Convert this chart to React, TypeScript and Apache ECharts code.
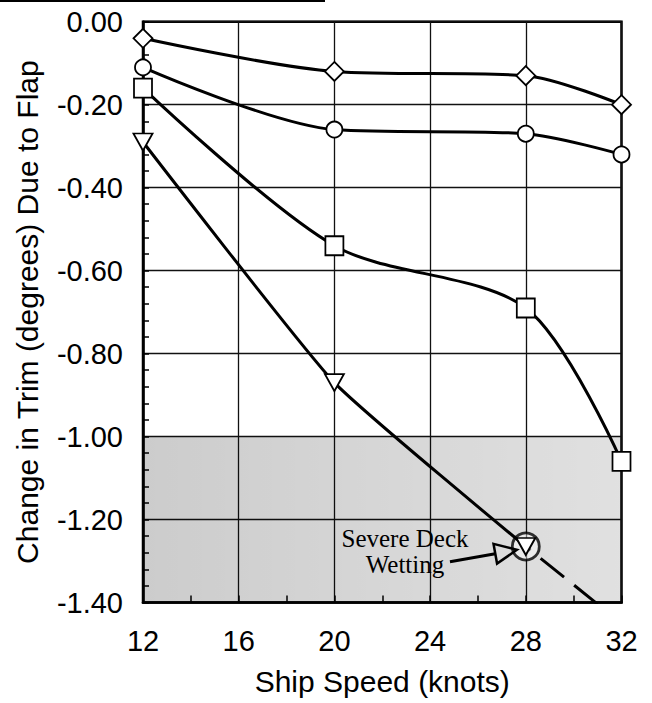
import React, { useEffect, useRef } from "react";
import * as echarts from "echarts";

// Ship speed (knots) at which trim change was measured
const speeds = [12, 20, 28, 32];
// Change in trim (degrees) due to flap, one array per flap configuration
const diamondTrim = [-0.04, -0.12, -0.13, -0.2];
const circleTrim = [-0.11, -0.26, -0.27, -0.32];
const squareTrim = [-0.16, -0.54, -0.69, -1.06];
const triangleSpeeds = [12, 20, 28];
const triangleTrim = [-0.29, -0.87, -1.265];
// extrapolated continuation of the triangle configuration
const extensionSpeeds = [28, 32];
const extensionTrim = [-1.265, -1.45];

// severe deck wetting zone (speed range, trim range)
const zoneSpeeds = [12, 32];
const zoneTrim = [-1.0, -1.4];
const wettingPoint = [28, -1.265];

// annotation anchors in data coordinates
const noteAnchor = [22.95, -1.276];
const arrowTail = [24.83, -1.302];
const arrowTip = [27.63, -1.273];

const SANS = "'Liberation Sans', Arial, Helvetica, sans-serif";
const SERIF = "'Liberation Serif', 'Times New Roman', serif";

const zip = (xs: number[], ys: number[]) => xs.map((x, i) => [x, ys[i]]);

const lineSeries = (
  data: number[][],
  symbol: string,
  symbolSize: number | number[],
  extra: Record<string, unknown> = {}
) => ({
  type: "line",
  data,
  smooth: 0.3,
  symbol,
  symbolSize,
  silent: true,
  z: 3,
  lineStyle: { color: "#000", width: 3 },
  itemStyle: { color: "#fff", borderColor: "#000", borderWidth: 1.8 },
  ...extra,
});

export default function App() {
  const ref = useRef<HTMLDivElement>(null);

  useEffect(() => {
    if (!ref.current) return;
    const chart = echarts.init(ref.current, null, { renderer: "svg" });

    const option: any = {
      animation: false,
      backgroundColor: "#fff",
      grid: {
        left: 143,
        right: 30.5,
        top: 21.7,
        bottom: 100.5,
        show: true,
        borderColor: "#000",
        borderWidth: 2.5,
        outerBoundsMode: "none",
      },
      xAxis: {
        type: "value",
        min: 12,
        max: 32,
        interval: 4,
        name: "Ship Speed (knots)",
        nameLocation: "middle",
        nameGap: 64,
        nameTextStyle: { fontSize: 30, color: "#000", fontFamily: SANS },
        axisLine: { onZero: false, lineStyle: { color: "#000", width: 2.5 } },
        axisTick: { show: true, inside: true, length: 7, lineStyle: { color: "#000", width: 1.5 } },
        minorTick: { show: true, splitNumber: 2, length: 7, lineStyle: { color: "#000", width: 1.5 } },
        axisLabel: { fontSize: 29, color: "#000", margin: 24, fontFamily: SANS },
        splitLine: { show: true, lineStyle: { color: "#111", width: 1.3 } },
      },
      yAxis: {
        type: "value",
        min: -1.4,
        max: 0,
        interval: 0.2,
        name: "Change in Trim (degrees) Due to Flap",
        nameLocation: "middle",
        nameGap: 101,
        nameTextStyle: { fontSize: 30, color: "#000", fontFamily: SANS },
        axisLine: { onZero: false, lineStyle: { color: "#000", width: 2.5 } },
        axisTick: { show: true, inside: true, length: 6, lineStyle: { color: "#000", width: 1.5 } },
        minorTick: { show: true, splitNumber: 5, length: 6, lineStyle: { color: "#000", width: 1.5 } },
        axisLabel: {
          fontSize: 29,
          color: "#000",
          margin: 20,
          fontFamily: SANS,
          formatter: (v: number) => v.toFixed(2),
        },
        splitLine: { show: true, lineStyle: { color: "#111", width: 1.3 } },
      },
      series: [
        {
          type: "line",
          data: zip(extensionSpeeds, extensionTrim),
          symbol: "none",
          silent: true,
          z: 1,
          lineStyle: { color: "#000", width: 3, type: [30, 13], dashOffset: 24 },
          markArea: {
            silent: true,
            itemStyle: {
              color: {
                type: "linear",
                x: 0,
                y: 0,
                x2: 1,
                y2: 0,
                colorStops: [
                  { offset: 0, color: "rgba(0,0,0,0.2)" },
                  { offset: 1, color: "rgba(0,0,0,0.12)" },
                ],
              },
            },
            data: [
              [
                { coord: [zoneSpeeds[0], zoneTrim[0]] },
                { coord: [zoneSpeeds[1], zoneTrim[1]] },
              ],
            ],
          },
        },
        {
          type: "scatter",
          data: [wettingPoint],
          symbol: "circle",
          symbolSize: 27,
          silent: true,
          z: 2,
          itemStyle: { color: "rgba(255,255,255,0.55)", borderColor: "#000", borderWidth: 2.8 },
        },
        lineSeries(zip(speeds, diamondTrim), "diamond", [19, 19]),
        lineSeries(zip(speeds, circleTrim), "circle", 16),
        lineSeries(zip(speeds, squareTrim), "rect", [18, 19]),
        lineSeries(zip(triangleSpeeds, triangleTrim), "triangle", [19, 17], {
          symbolRotate: 180,
          smooth: 0.15,
        }),
      ],
    };

    chart.setOption(option);

    // annotation: text with an open-headed arrow pointing to the wetting point
    const toPx = (p: number[]) => chart.convertToPixel({ gridIndex: 0 }, p) as number[];
    const tail = toPx(arrowTail);
    const tip = toPx(arrowTip);
    const note = toPx(noteAnchor);
    const dx = tip[0] - tail[0];
    const dy = tip[1] - tail[1];
    const len = Math.hypot(dx, dy) || 1;
    const ux = dx / len;
    const uy = dy / len;
    const nx = -uy;
    const ny = ux;
    const headLen = 22;
    const headHalf = 10;
    const bx = tip[0] - ux * headLen;
    const by = tip[1] - uy * headLen;

    chart.setOption({
      graphic: [
        {
          type: "line",
          shape: { x1: 0, y1: 1, x2: 325, y2: 1 },
          style: { stroke: "#000", lineWidth: 2 },
          silent: true,
        },
        {
          type: "line",
          shape: { x1: tail[0], y1: tail[1], x2: bx, y2: by },
          style: { stroke: "#000", lineWidth: 3 },
          z: 10,
          silent: true,
        },
        {
          type: "polygon",
          shape: {
            points: [
              [tip[0], tip[1]],
              [bx + nx * headHalf, by + ny * headHalf],
              [bx - nx * headHalf, by - ny * headHalf],
            ],
          },
          style: { fill: "none", stroke: "#000", lineWidth: 2.5 },
          z: 10,
          silent: true,
        },
        {
          type: "text",
          x: note[0],
          y: note[1],
          z: 10,
          silent: true,
          style: {
            text: "Severe Deck\nWetting",
            font: `25px ${SERIF}`,
            fill: "#000",
            align: "center",
            verticalAlign: "middle",
            lineHeight: 26,
          },
        },
      ],
    });

    return () => chart.dispose();
  }, []);

  return (
    <div
      ref={ref}
      style={{ position: "fixed", left: 0, top: 0, width: 652, height: 703, background: "#fff" }}
    />
  );
}
